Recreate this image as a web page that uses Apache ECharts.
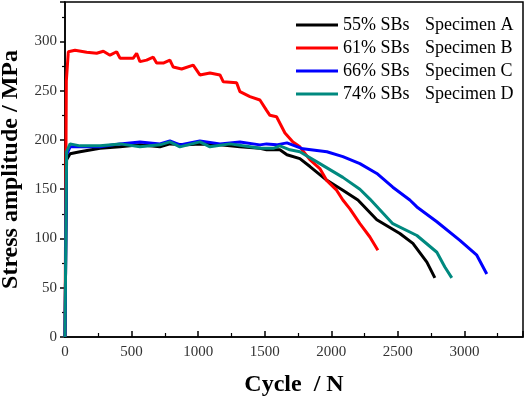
<!DOCTYPE html>
<html>
<head>
<meta charset="utf-8">
<script src="https://cdn.jsdelivr.net/npm/echarts@6/dist/echarts.min.js"></script>
<style>
  html, body { margin: 0; padding: 0; background: #fff; }
  #chart { width: 526px; height: 399px; }
</style>
</head>
<body>
<div id="chart"></div>
<script>
// series names and legend second column
const seriesNames = ['55% SBs', '61% SBs', '66% SBs', '74% SBs']
const specimenNames = ['Specimen A', 'Specimen B', 'Specimen C', 'Specimen D']

// Specimen A (black)
const cyclesA = [0, 12, 38, 113, 263, 413, 563, 713, 788, 913, 1013, 1164, 1314, 1464, 1514, 1614, 1667, 1764, 1840, 1967, 2087, 2200, 2342, 2515, 2613, 2718, 2778]
const stressA = [0, 180, 186, 188, 191.5, 193, 195, 193, 196, 195, 196, 195, 193, 191.5, 190, 190, 185, 181, 173, 159, 149, 139, 119, 105, 95, 76, 60]

// Specimen B (red)
const cyclesB = [0, 10, 25, 75, 163, 238, 288, 338, 388, 413, 513, 538, 563, 613, 663, 688, 738, 788, 813, 876, 963, 1013, 1089, 1164, 1189, 1289, 1314, 1389, 1464, 1514, 1539, 1589, 1652, 1712, 1764, 1839, 1914, 1965, 2040, 2087, 2140, 2215, 2290, 2350]
const stressB = [0, 260, 289.5, 291, 289, 288, 290, 286, 289.5, 283, 283, 288, 279.5, 281, 284, 278, 278, 281, 274, 272, 276, 266, 268, 266, 259, 258, 249, 244, 240.5, 230, 225, 223.5, 207, 198, 193, 180, 171, 159, 149, 139, 130, 115, 101.5, 88]

// Specimen C (blue)
const cyclesC = [0, 12, 38, 113, 263, 413, 563, 713, 788, 863, 1013, 1164, 1314, 1464, 1514, 1589, 1667, 1787, 1967, 2087, 2215, 2342, 2462, 2590, 2643, 2793, 2966, 3093, 3168]
const stressC = [0, 185, 193, 193, 193, 196, 198, 196, 199, 195, 199, 196, 198, 195, 196, 195, 197, 191, 188, 183, 176, 166, 152, 139, 132, 117, 98, 83, 64]

// Specimen D (teal)
const cyclesD = [0, 12, 38, 113, 263, 413, 563, 713, 788, 863, 1013, 1089, 1239, 1389, 1464, 1564, 1614, 1689, 1764, 1914, 2087, 2215, 2290, 2462, 2643, 2793, 2853, 2905]
const stressD = [0, 188, 196, 194, 194, 196, 193, 195, 198, 193, 198, 193, 196, 193, 191.5, 191.5, 194, 190, 188, 176, 162, 150, 140, 115, 103, 86, 71, 60]

const colors = ['#000000', '#ff0000', '#0000ff', '#00897f']
const allCycles = [cyclesA, cyclesB, cyclesC, cyclesD]
const allStress = [stressA, stressB, stressC, stressD]

const serif = "'Liberation Serif', 'Times New Roman', serif"

const chart = echarts.init(document.getElementById('chart'), null, { renderer: 'canvas' })

const series = seriesNames.map((name, idx) => ({
  name: name,
  type: 'line',
  showSymbol: false,
  symbol: 'none',
  lineStyle: { width: 3, color: colors[idx] },
  itemStyle: { color: colors[idx] },
  data: allCycles[idx].map((c, i) => [c, allStress[idx][i]])
}))

const option = {
  animation: false,
  backgroundColor: '#fff',
  grid: {
    left: 65,
    right: 3,
    top: 2,
    bottom: 62,
    show: true,
    borderColor: '#000',
    borderWidth: 1.5,
    containLabel: false,
    outerBoundsMode: 'none'
  },
  legend: {
    data: seriesNames,
    orient: 'vertical',
    left: 291,
    top: 11,
    itemWidth: 42,
    itemHeight: 3,
    itemGap: 5,
    icon: 'rect',
    formatter: function (name) {
      const i = seriesNames.indexOf(name)
      return '{a|' + name + '}{b|' + specimenNames[i] + '}'
    },
    textStyle: {
      fontFamily: serif,
      fontSize: 18,
      color: '#000',
      lineHeight: 18,
      rich: {
        a: { fontFamily: serif, fontSize: 18, color: '#000', width: 82 },
        b: { fontFamily: serif, fontSize: 18, color: '#000' }
      }
    }
  },
  xAxis: {
    type: 'value',
    min: 0,
    max: 3440,
    interval: 500,
    name: 'Cycle  / N',
    nameLocation: 'middle',
    nameGap: 36,
    nameTextStyle: { fontFamily: serif, fontSize: 24, fontWeight: 'bold', color: '#000' },
    axisLine: { show: true, lineStyle: { color: '#000', width: 1.5 } },
    axisTick: { show: true, inside: true, length: 6, lineStyle: { color: '#000', width: 1.5 } },
    minorTick: { show: true, splitNumber: 2, length: 4, lineStyle: { color: '#000', width: 1.2 } },
    axisLabel: {
      showMaxLabel: false,
      margin: 8,
      fontFamily: serif,
      fontSize: 15,
      color: '#333',
      formatter: function (v) { return String(v) }
    },
    splitLine: { show: false }
  },
  yAxis: {
    type: 'value',
    min: 0,
    max: 340,
    interval: 50,
    name: 'Stress amplitude / MPa',
    nameLocation: 'middle',
    nameGap: 42,
    nameTextStyle: { fontFamily: serif, fontSize: 24, fontWeight: 'bold', color: '#000' },
    axisLine: { show: true, lineStyle: { color: '#000', width: 1.5 } },
    axisTick: { show: true, inside: false, length: 5, lineStyle: { color: '#000', width: 1.5 } },
    minorTick: { show: true, splitNumber: 2, length: 3, lineStyle: { color: '#000', width: 1.2 } },
    axisLabel: {
      showMaxLabel: false,
      margin: 8,
      fontFamily: serif,
      fontSize: 15,
      color: '#333',
      formatter: function (v) { return String(v) }
    },
    splitLine: { show: false }
  },
  series: series
}

chart.setOption(option)
</script>
</body>
</html>
